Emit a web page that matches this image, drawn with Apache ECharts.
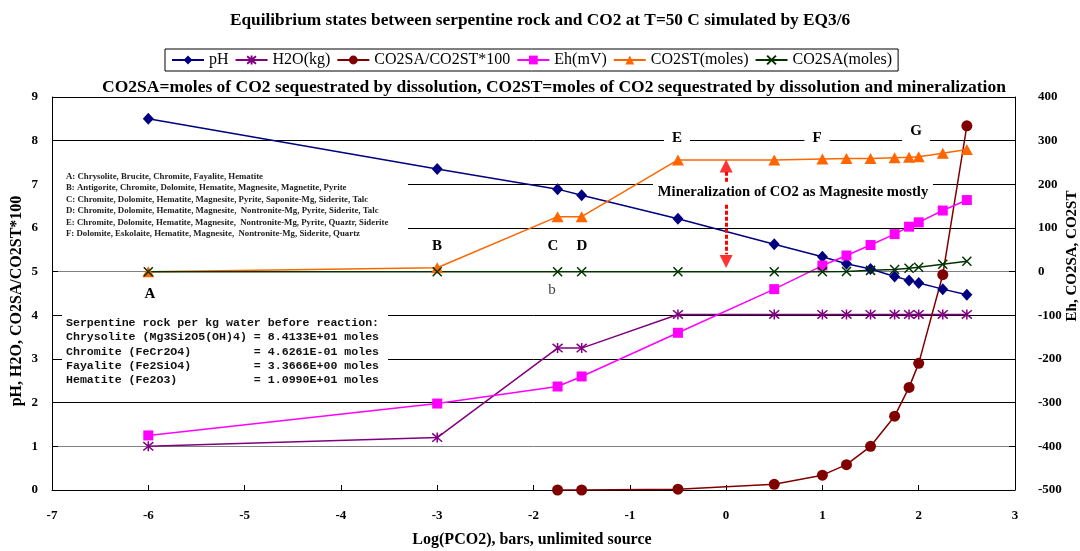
<!DOCTYPE html>
<html><head><meta charset="utf-8">
<script src="https://cdn.jsdelivr.net/npm/echarts@6/dist/echarts.min.js"></script>
<style>html,body{margin:0;padding:0;background:#fff}#c{width:1080px;height:551px}</style>
</head><body><div id="c"></div>
<script>
// ---- data ----
const logPCO2 = [-6, -3, -1.75, -1.5, -0.5, 0.5, 1, 1.25, 1.5, 1.75, 1.9, 2, 2.25, 2.5];
const pH      = [8.50, 7.35, 6.89, 6.75, 6.21, 5.63, 5.34, 5.18, 5.06, 4.89, 4.80, 4.74, 4.60, 4.47];
const H2O     = [1.00, 1.20, 3.25, 3.25, 4.02, 4.02, 4.02, 4.02, 4.02, 4.02, 4.02, 4.02, 4.02, 4.02];
const ratio   = [null, null, 0, 0, 0.02, 0.13, 0.34, 0.58, 1.0, 1.69, 2.35, 2.9, 4.93, 8.34];
const Eh      = [-375, -302, -263, -240, -140, -40, 14, 37, 61, 86, 103, 113, 140, 164];
const CO2ST   = [0, 9, 126, 126, 256, 256, 258, 259, 259, 261, 262, 263, 271, 280];
const CO2SA   = [0, 0, 0, 0, 0, 0, 0, 0.5, 3, 5, 8, 10, 17, 24];
const leftTicks  = {min: 0, max: 9, interval: 1};
const rightTicks = {min: -500, max: 400, interval: 100};
const xTicks     = {min: -7, max: 3, interval: 1};
const mineralLines = [
  'A: Chrysolite, Brucite, Chromite, Fayalite, Hematite',
  'B: Antigorite, Chromite, Dolomite, Hematite, Magnesite, Magnetite, Pyrite',
  'C: Chromite, Dolomite, Hematite, Magnesite, Pyrite, Saponite-Mg, Siderite, Talc',
  'D: Chromite, Dolomite, Hematite, Magnesite,  Nontronite-Mg, Pyrite, Siderite, Talc',
  'E: Chromite, Dolomite, Hematite, Magnesite,  Nontronite-Mg, Pyrite, Quaztr, Siderite',
  'F: Dolomite, Eskolaite, Hematite, Magnesite,  Nontronite-Mg, Siderite, Quartz'
];
const rockLines = [
  'Serpentine rock per kg water before reaction:',
  'Chrysolite (Mg3Si2O5(OH)4) = 8.4133E+01 moles',
  'Chromite (FeCr2O4)         = 4.6261E-01 moles',
  'Fayalite (Fe2SiO4)         = 3.3666E+00 moles',
  'Hematite (Fe2O3)           = 1.0990E+01 moles'
];
// arrow (x, y on left axis): dotted segments and heads
const arrowX = 0;
const arrowUpSeg = [7.06, 7.28];
const arrowDownSeg = [6.53, 5.40];
const arrowHeads = [7.42, 5.23];

function pairs(arr){ return logPCO2.map((x,i)=>[x,arr[i]]).filter(p=>p[1]!=null); }

const SERIF = 'Liberation Serif';
const MONO = 'Liberation Mono';
const starPath = 'path://M0,1L10,11M10,1L0,11M5,0L5,12';
const xPath = 'path://M0,0L10,10M10,0L0,10';

const chart = echarts.init(document.getElementById('c'), null, {renderer:'canvas'});

function txt(text, x, y, font, extra){
  return Object.assign({type:'text', x:x, y:y, z:3, silent:true,
    style:Object.assign({text:text, font:font, fill:'#000', align:'center', verticalAlign:'middle'}, extra||{})});
}

const graphics = [];
// white boxes that interrupt gridlines
graphics.push({type:'rect', z:1, silent:true, shape:{x:53, y:169, width:355, height:72}, style:{fill:'#fff'}});
graphics.push({type:'rect', z:1, silent:true, shape:{x:62, y:311, width:326, height:76}, style:{fill:'#fff'}});
graphics.push({type:'rect', z:1, silent:true, shape:{x:653, y:181, width:280, height:20}, style:{fill:'#fff'}});
mineralLines.forEach((t,i)=>graphics.push(txt(t, 66, 176.7 + i*11.5, 'bold 8.8px "'+SERIF+'"', {align:'left', fill:'#222'})));
rockLines.forEach((t,i)=>graphics.push(txt(t, 66, 323 + i*14.3, 'bold 11.6px "'+MONO+'"', {align:'left', fill:'#111'})));
graphics.push(txt('Mineralization of CO2 as Magnesite mostly', 793, 192, 'bold 14.6px "'+SERIF+'"'));
// labels
graphics.push(txt('A', 150, 294, 'bold 15px "'+SERIF+'"'));
graphics.push(txt('B', 437, 246, 'bold 15px "'+SERIF+'"'));
graphics.push(txt('C', 553, 246, 'bold 15px "'+SERIF+'"'));
graphics.push(txt('D', 582, 246, 'bold 15px "'+SERIF+'"'));
graphics.push(txt('b', 552, 290, '15px "'+SERIF+'"', {fill:'#444'}));
graphics.push(txt('E', 677, 138, 'bold 15px "'+SERIF+'"', {backgroundColor:'#fff', padding:[1,8]}));
graphics.push(txt('F', 817, 138, 'bold 15px "'+SERIF+'"', {backgroundColor:'#fff', padding:[1,8]}));
graphics.push(txt('G', 916, 131, 'bold 15px "'+SERIF+'"', {backgroundColor:'#fff', padding:[2,8,6,8]}));
// titles
graphics.push(txt('Equilibrium states between serpentine rock and CO2 at T=50 C simulated by EQ3/6', 540, 21, 'bold 17.3px "'+SERIF+'"'));
graphics.push(txt('CO2SA=moles of CO2 sequestrated by dissolution, CO2ST=moles of CO2 sequestrated by dissolution and mineralization', 554, 87, 'bold 17.5px "'+SERIF+'"'));
graphics.push(txt('Log(PCO2), bars, unlimited source', 532, 540, 'bold 16px "'+SERIF+'"'));
graphics.push(Object.assign(txt('pH, H2O, CO2SA/CO2ST*100', 17, 301, 'bold 16px "'+SERIF+'"'), {rotation: Math.PI/2}));
graphics.push(Object.assign(txt('Eh, CO2SA, CO2ST', 1072, 256, 'bold 15px "'+SERIF+'"'), {rotation: Math.PI/2}));

const tickLabel = {fontFamily:SERIF, fontWeight:'bold', fontSize:13, color:'#000'};

function lineSeries(name, arr, axis, color, symbol, size, stroke){
  return {
    name:name, type:'line', yAxisIndex:axis, data:pairs(arr), symbol:symbol, symbolSize:size,
    lineStyle:{color:color, width:1.5}, itemStyle: stroke ? {color:color, borderColor:color, borderWidth:1.5} : {color:color, borderWidth:0},
    emphasis:{disabled:true}, z:2
  };
}

const option = {
  animation:false,
  backgroundColor:'#fff',
  grid:{left:52, right:65, top:97, bottom:61, containLabel:false},
  legend:{
    data:['pH','H2O(kg)','CO2SA/CO2ST*100','Eh(mV)','CO2ST(moles)','CO2SA(moles)'],
    top:49, left:165, selectedMode:false, borderColor:'#000', borderWidth:1, padding:[3,6],
    itemGap:6, itemWidth:32, itemHeight:11,
    textStyle:{fontFamily:SERIF, fontSize:16, color:'#000'}
  },
  xAxis:{
    type:'value', min:xTicks.min, max:xTicks.max, interval:xTicks.interval,
    axisLine:{onZero:false, lineStyle:{color:'#000', width:1}},
    axisTick:{show:true, inside:true, length:5, lineStyle:{color:'#000'}},
    axisLabel:Object.assign({margin:19}, tickLabel),
    splitLine:{show:false}
  },
  yAxis:[{
    type:'value', min:leftTicks.min, max:leftTicks.max, interval:leftTicks.interval,
    axisLine:{show:true, onZero:false, lineStyle:{color:'#000', width:1}},
    axisTick:{show:true, inside:true, length:6, lineStyle:{color:'#000'}},
    axisLabel:Object.assign({margin:14}, tickLabel),
    splitLine:{show:true, lineStyle:{color:['#000','#808080','#000','#000','#000','#808080','#000','#000','#000','#000'], width:1}}
  },{
    type:'value', position:'right', min:rightTicks.min, max:rightTicks.max, interval:rightTicks.interval,
    axisLine:{show:true, onZero:false, lineStyle:{color:'#000', width:1}},
    axisTick:{show:true, inside:true, length:6, lineStyle:{color:'#000'}},
    axisLabel:Object.assign({margin:23}, tickLabel),
    splitLine:{show:false}
  }],
  graphic:{elements:graphics},
  series:[
    lineSeries('pH', pH, 0, '#000080', 'diamond', [11,12], false),
    lineSeries('H2O(kg)', H2O, 0, '#800080', starPath, 10, true),
    lineSeries('CO2SA/CO2ST*100', ratio, 0, '#800000', 'circle', 11, false),
    lineSeries('Eh(mV)', Eh, 1, '#FF00FF', 'rect', 10, false),
    lineSeries('CO2ST(moles)', CO2ST, 1, '#FF6600', 'triangle', [12,11], false),
    lineSeries('CO2SA(moles)', CO2SA, 1, '#003300', xPath, 9, true),
    {
      name:'arrow', type:'scatter', yAxisIndex:0, silent:true, z:4,
      data:[{value:[arrowX, arrowHeads[0]], symbolRotate:0},{value:[arrowX, arrowHeads[1]], symbolRotate:180}],
      symbol:'triangle', symbolSize:[13,13], itemStyle:{color:'#FF0000'},
      markLine:{silent:true, symbol:['none','none'], label:{show:false},
        lineStyle:{color:'#FF0000', width:3, type:[4,2]},
        data:[[{coord:[arrowX, arrowUpSeg[0]]},{coord:[arrowX, arrowUpSeg[1]]}],
              [{coord:[arrowX, arrowDownSeg[0]]},{coord:[arrowX, arrowDownSeg[1]]}]]}
    }
  ]
};
chart.setOption(option);
</script></body></html>
